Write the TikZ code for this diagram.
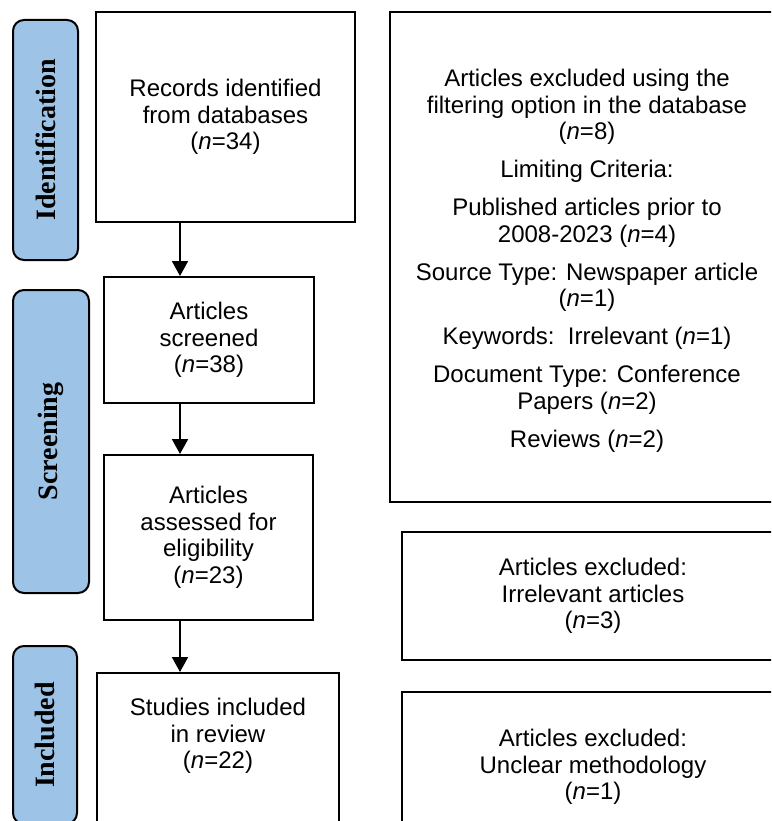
\documentclass[tikz,border=0pt]{standalone}
\usepackage{fontspec}
\setmainfont{Liberation Sans}
\newfontfamily\phasefont{Liberation Serif}
\usetikzlibrary{arrows.meta}
\definecolor{phaseblue}{RGB}{157,195,230}

\begin{document}
\begin{tikzpicture}[x=1pt, y=-1pt, line width=2pt,
  >={Triangle[length=15pt,width=16pt]},
  stepbox/.style={draw, rectangle, inner sep=0pt, align=center,
    font=\fontsize{24}{26.5}\selectfont},
  phase/.style={draw, fill=phaseblue, rounded corners=11pt, rotate=90,
    inner sep=0pt, font=\phasefont\bfseries\fontsize{28}{32}\selectfont}]
  \useasboundingbox (0,0) rectangle (771,821);
  \clip (0,0) rectangle (771,821);
  \node[phase, minimum width=240pt, minimum height=65pt] (ident) at (45.5,140) {Identification};
  \node[phase, minimum width=303pt, minimum height=76pt] (screen) at (51,441.5) {Screening};
  \node[phase, minimum width=178pt, minimum height=64pt] (incl) at (45,735) {Included};
  \node[stepbox, minimum width=259pt, minimum height=210pt] (records) at (225.5,117)
    {Records identified\\from databases\\(\textit{n}=34)};
  \node[stepbox, minimum width=210pt, minimum height=126pt] (screened) at (209,340)
    {Articles\\screened\\(\textit{n}=38)};
  \node[stepbox, minimum width=209pt, minimum height=165pt] (eligib) at (208.5,537.5)
    {Articles\\assessed for\\eligibility\\(\textit{n}=23)};
  \node[stepbox, minimum width=242pt, minimum height=167pt] (studies) at (218,756.5) {};
  \node[stepbox, draw=none] (studiestext) at ([yshift=20.5pt]studies.center)
    {Studies included\\in review\\(\textit{n}=22)};
  \node[stepbox, minimum width=394pt, minimum height=490pt] (filtered) at (587,257)
    {};
  \node[stepbox, draw=none] (filteredtext) at ([yshift=-4pt]filtered.center)
    {Articles excluded using the\\filtering option in the database\\(\textit{n}=8)\\[11.5pt]
     Limiting Criteria:\\[11.5pt]
     Published articles prior to\\2008-2023 (\textit{n}=4)\\[11.5pt]
     Source Type: Newspaper article\\(\textit{n}=1)\\[11.5pt]
     Keywords:\ \ Irrelevant (\textit{n}=1)\\[11.5pt]
     Document Type: Conference\\Papers (\textit{n}=2)\\[11.5pt]
     Reviews (\textit{n}=2)};
  \node[stepbox, minimum width=382pt, minimum height=128pt] (irrel) at (593,596)
    {Articles excluded:\\Irrelevant articles\\(\textit{n}=3)};
  \node[stepbox, minimum width=382pt, minimum height=150pt] (unclear) at (593,767)
    {Articles excluded:\\Unclear methodology\\(\textit{n}=1)};
  \coordinate (ax) at (180,0);
  \foreach \from/\to in {records/screened, screened/eligib, eligib/studies}
    \draw[->] (\from.south -| ax) -- (\to.north -| ax);
\end{tikzpicture}
\end{document}
